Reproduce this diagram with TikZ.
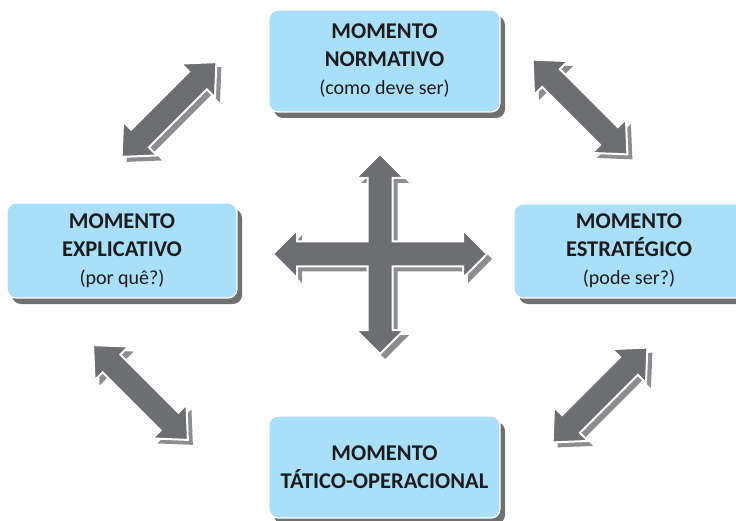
\documentclass[tikz,border=0pt]{standalone}
\usepackage{fontspec}
\setmainfont{Carlito}
\usetikzlibrary{shadows}
\definecolor{boxblue}{RGB}{170,223,249}
\definecolor{arrdark}{RGB}{109,110,113}
\definecolor{arrshadow}{RGB}{140,141,143}
\definecolor{boxshadow}{RGB}{112,112,114}
\definecolor{txt}{RGB}{30,27,28}
\newcommand\diagarrow[3]{% cx, cy, angle
  \begin{scope}[shift={(#1+5,#2+5)},rotate=#3]
    \fill[arrshadow] (67,0) -- (41,24) -- (41,12.5) -- (-41,12.5) -- (-41,24) -- (-67,0)
      -- (-41,-24) -- (-41,-12.5) -- (41,-12.5) -- (41,-24) -- cycle;
  \end{scope}
  \begin{scope}[shift={(#1,#2)},rotate=#3]
    \filldraw[fill=arrdark, draw=white, line width=2pt, line join=miter] (67,0) -- (41,24) -- (41,12.5) -- (-41,12.5) -- (-41,24) -- (-67,0)
      -- (-41,-24) -- (-41,-12.5) -- (41,-12.5) -- (41,-24) -- cycle;
  \end{scope}}
\tikzset{
  moment/.style={rectangle, rounded corners=9pt, fill=boxblue, draw=white, line width=1.2pt,
    text=txt, align=center, inner sep=0pt, font=\fontsize{22.5}{28}\selectfont,
    drop shadow={shadow xshift=5pt, shadow yshift=-6pt, fill=boxshadow, opacity=1}}
}
\begin{document}
\begin{tikzpicture}[x=1pt,y=-1pt]
\useasboundingbox (0,0) rectangle (736,521);
% boxes
\node[moment, minimum width=231pt, minimum height=102pt] (norm) at (384.5,61)
  {\textbf{MOMENTO}\\\textbf{NORMATIVO}\\\fontsize{20}{28}\selectfont(como deve ser)};
\node[moment, minimum width=230pt, minimum height=95pt] (expl) at (122,250.5)
  {\textbf{MOMENTO}\\\textbf{EXPLICATIVO}\\\fontsize{20}{28}\selectfont(por quê?)};
\node[moment, minimum width=230pt, minimum height=94pt] (estr) at (629,251)
  {\textbf{MOMENTO}\\\textbf{ESTRATÉGICO}\\\fontsize{20}{28}\selectfont(pode ser?)};
\node[moment, minimum width=231pt, minimum height=102pt] (tat) at (384.5,467)
  {\textbf{MOMENTO}\\\textbf{TÁTICO-OPERACIONAL}};
% diagonal arrows
\diagarrow{169}{109.5}{45}
\diagarrow{580}{107}{-45}
\diagarrow{140.5}{392.5}{-45}
\diagarrow{600}{395}{45}
% central cross
\begin{scope}[shift={(385,259)}]
  \fill[arrshadow] (0,-100) -- (24,-76) -- (12.5,-76) -- (12.5,-12.5) -- (83,-12.5) -- (83,-24) -- (107,0)
    -- (83,24) -- (83,12.5) -- (12.5,12.5) -- (12.5,76) -- (24,76) -- (0,100) -- (-24,76) -- (-12.5,76)
    -- (-12.5,12.5) -- (-83,12.5) -- (-83,24) -- (-107,0) -- (-83,-24) -- (-83,-12.5) -- (-12.5,-12.5)
    -- (-12.5,-76) -- (-24,-76) -- cycle;
\end{scope}
\begin{scope}[shift={(380,254)}]
  \filldraw[fill=arrdark, draw=white, line width=2pt] (0,-100) -- (24,-76) -- (12.5,-76) -- (12.5,-12.5) -- (83,-12.5) -- (83,-24) -- (107,0)
    -- (83,24) -- (83,12.5) -- (12.5,12.5) -- (12.5,76) -- (24,76) -- (0,100) -- (-24,76) -- (-12.5,76)
    -- (-12.5,12.5) -- (-83,12.5) -- (-83,24) -- (-107,0) -- (-83,-24) -- (-83,-12.5) -- (-12.5,-12.5)
    -- (-12.5,-76) -- (-24,-76) -- cycle;
\end{scope}
\end{tikzpicture}
\end{document}
